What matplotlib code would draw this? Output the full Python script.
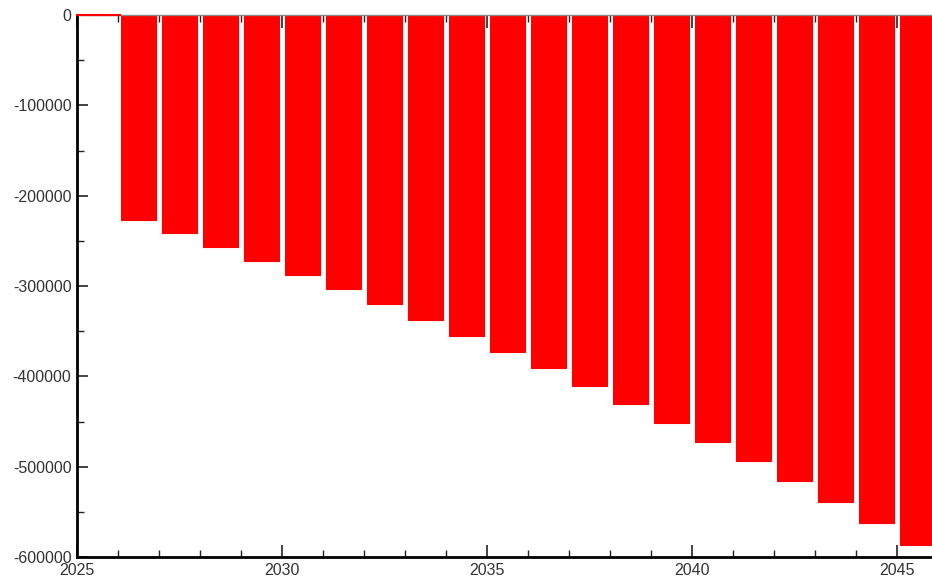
import matplotlib
matplotlib.use("Agg")
import matplotlib.pyplot as plt
from matplotlib.ticker import MultipleLocator

# 年ごとの値
years = list(range(2025, 2046))
values = [0, -226900, -241300, -256800, -272300, -287800, -303300, -319900,
          -337600, -355400, -373100, -390800, -410700, -430600, -451700,
          -472700, -493700, -515900, -539100, -562400, -586700]

plt.rcParams["font.family"] = ["Liberation Sans", "DejaVu Sans"]

fig = plt.figure(figsize=(9.32, 5.83), dpi=100)
ax = fig.add_axes([77 / 932, 1 - 557 / 583, 1 - 77 / 932, (557 - 15) / 583])

xs = [y + 0.5 for y in years]
ax.bar(xs, values, width=0.85, color="#ff0000", edgecolor="#ff0000",
       linewidth=0.8, zorder=2)
ax.plot([2025, 2026.05], [0, 0], color="#ff0000", lw=1.5, zorder=3,
        clip_on=False)

ax.set_xlim(2025, 2045.85)
ax.set_ylim(-600000, 0)
ax.xaxis.set_major_locator(MultipleLocator(5))
ax.xaxis.set_minor_locator(MultipleLocator(1))
ax.yaxis.set_major_locator(MultipleLocator(100000))
ax.yaxis.set_minor_locator(MultipleLocator(50000))

for s in ("left", "bottom"):
    ax.spines[s].set_linewidth(2.0)
    ax.spines[s].set_color("black")
ax.spines["top"].set_linewidth(1.0)
ax.spines["top"].set_color("#888888")
ax.spines["right"].set_visible(False)

ax.tick_params(axis="both", which="both", direction="in", colors="#222222",
               labelcolor="#333333", labelsize=11.5)
ax.tick_params(axis="x", which="major", length=9, width=1.2, top=True, pad=4)
ax.tick_params(axis="x", which="minor", length=5, width=1.0, top=True)
ax.tick_params(axis="y", which="major", length=8, width=1.2, pad=4)
ax.tick_params(axis="y", which="minor", length=5, width=1.0)
ax.xaxis.set_major_formatter(plt.FuncFormatter(lambda v, p: f"{int(v)}"))
ax.yaxis.set_major_formatter(plt.FuncFormatter(lambda v, p: f"{int(v)}"))

fig.savefig("out.png", dpi=100)
